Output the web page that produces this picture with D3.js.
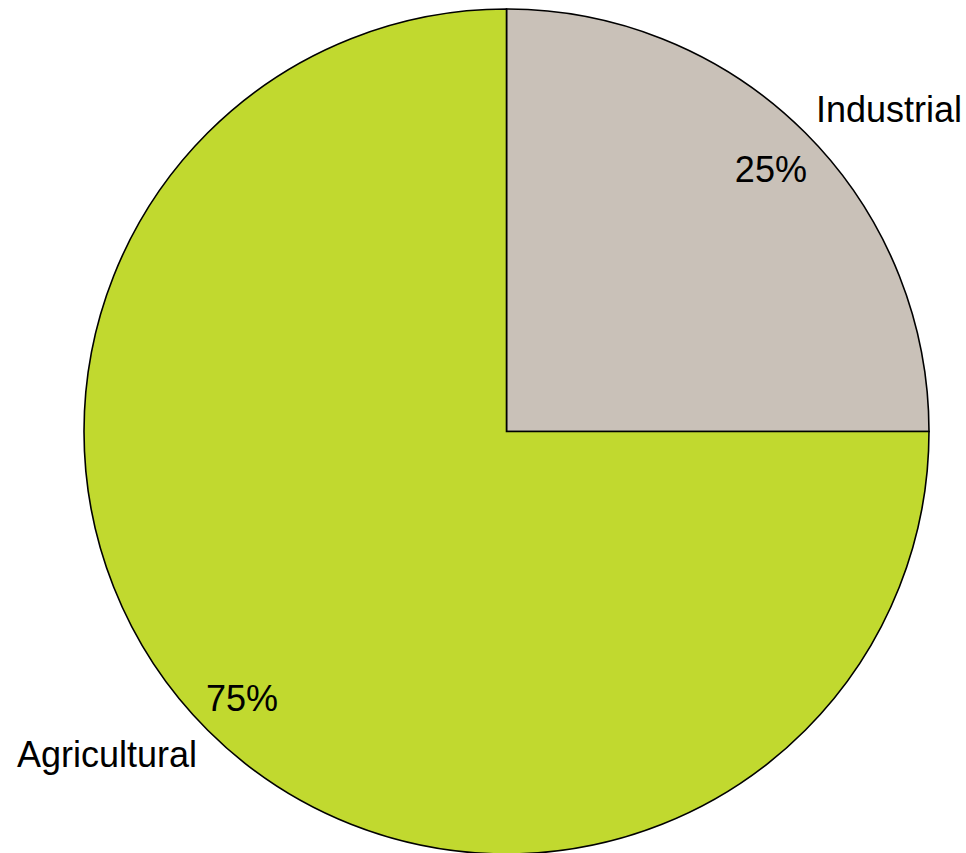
<!DOCTYPE html>
<html>
<head>
<meta charset="utf-8">
<script src="https://cdn.jsdelivr.net/npm/d3@7"></script>
<style>
  html, body { margin: 0; padding: 0; background: #fff; }
  svg { display: block; }
  text { font-family: "Liberation Sans", Arial, sans-serif; fill: #000; }
</style>
</head>
<body>
<svg id="chart" width="966" height="853"></svg>
<script>
// Land use shares
const categories = ["Industrial", "Agricultural"];
const values = [25, 75];
const percentLabels = ["25%", "75%"];
const colors = ["#C9C1B8", "#C1D92F"];

const width = 966, height = 853;
const cx = 506.5, cy = 431.5, radius = 422.5;

const svg = d3.select("#chart");
const g = svg.append("g").attr("transform", `translate(${cx},${cy})`);

const data = categories.map((c, i) => ({ category: c, value: values[i], pct: percentLabels[i], color: colors[i] }));

const pie = d3.pie().sort(null).value(d => d.value).startAngle(0).endAngle(2 * Math.PI);
const arcs = pie(data);

const arc = d3.arc().innerRadius(0).outerRadius(radius);
const pctArc = d3.arc().innerRadius(radius * 0.885).outerRadius(radius * 0.885);
const nameArc = d3.arc().innerRadius(radius * 1.036).outerRadius(radius * 1.036);

g.selectAll("path.slice")
  .data(arcs)
  .join("path")
  .attr("class", "slice")
  .attr("d", arc)
  .attr("fill", d => d.data.color)
  .attr("stroke", "#000")
  .attr("stroke-width", 1.6)
  .attr("stroke-linejoin", "miter");

// Percentages inside the slices
g.selectAll("text.pct")
  .data(arcs)
  .join("text")
  .attr("class", "pct")
  .attr("transform", d => `translate(${pctArc.centroid(d)})`)
  .attr("text-anchor", "middle")
  .attr("dy", "0.42em")
  .style("font-size", "36px")
  .text(d => d.data.pct);

// Category names outside the pie, corner nearest the pie at the anchor
g.selectAll("text.name")
  .data(arcs)
  .join("text")
  .attr("class", "name")
  .each(function (d) {
    const [x, y] = nameArc.centroid(d);
    d3.select(this)
      .attr("x", x)
      .attr("y", y)
      .attr("text-anchor", x >= 0 ? "start" : "end")
      .attr("dy", y >= 0 ? "0.716em" : "0");
  })
  .style("font-size", "36px")
  .text(d => d.data.category);
</script>
</body>
</html>
